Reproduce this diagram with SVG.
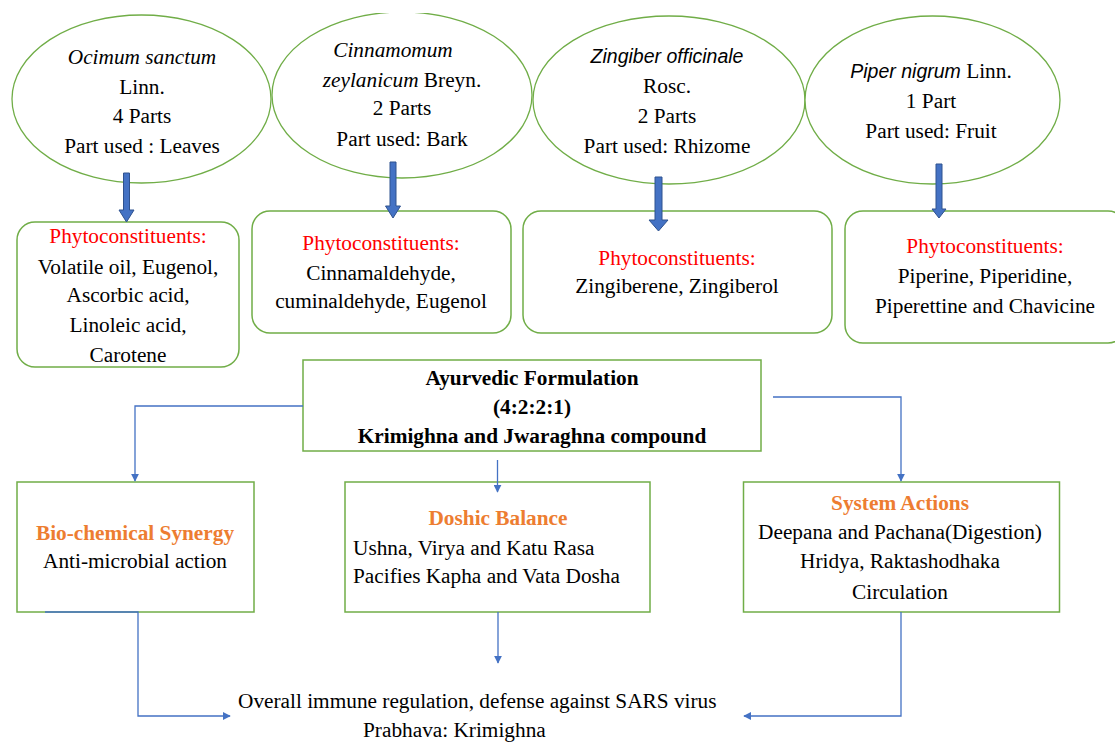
<svg xmlns="http://www.w3.org/2000/svg" width="1115" height="742" viewBox="0 0 1115 742">
<style>
.ell{fill:#fff;stroke:#70AD47;stroke-width:1.3}
.rbox{fill:#fff;stroke:#70AD47;stroke-width:1.5}
.box{fill:#fff;stroke:#70AD47;stroke-width:1.5}
.t{font-family:"Liberation Serif","Times New Roman",serif;font-size:21.3px;fill:#000;text-anchor:middle}
.st{text-anchor:start}
.i{font-style:italic}
.cal{font-family:"Liberation Sans",Arial,sans-serif;font-style:italic;font-size:19.5px}
.red{fill:#FF0000}
.b{font-weight:bold}
.or{fill:#ED7D31;font-weight:bold}
.blk{fill:#4472C4;stroke:#2F528F;stroke-width:1}
.con{fill:none;stroke:#4472C4;stroke-width:1.3}
</style>
<defs>
<marker id="ah" viewBox="0 0 10 10" refX="9" refY="5" markerWidth="8" markerHeight="8" markerUnits="userSpaceOnUse" orient="auto">
<path d="M0,0 L10,5 L0,10 Z" fill="#4472C4"/>
</marker>
<clipPath id="topclip"><rect x="0" y="13" width="1115" height="729"/></clipPath>
</defs>
<rect width="1115" height="742" fill="#fff"/>

<g id="herb-ocimum">
<ellipse class="ell" cx="141.5" cy="99" rx="129.5" ry="84"/>
<text class="t i" x="142" y="64">Ocimum sanctum</text>
<text class="t" x="142" y="94">Linn.</text>
<text class="t" x="142" y="123">4 Parts</text>
<text class="t" x="142" y="153">Part used : Leaves</text>
</g>

<g id="herb-cinnamomum">
<ellipse class="ell" cx="402" cy="95" rx="130" ry="83" clip-path="url(#topclip)"/>
<text class="t i" x="393" y="57">Cinnamomum</text>
<text class="t" x="402" y="87"><tspan class="i">zeylanicum</tspan> Breyn.</text>
<text class="t" x="402" y="115">2 Parts</text>
<text class="t" x="402" y="146">Part used: Bark</text>
</g>

<g id="herb-zingiber">
<ellipse class="ell" cx="669" cy="100" rx="136" ry="84"/>
<text class="t cal" x="667" y="63">Zingiber officinale</text>
<text class="t" x="667" y="93">Rosc.</text>
<text class="t" x="667" y="123">2 Parts</text>
<text class="t" x="667" y="153">Part used: Rhizome</text>
</g>

<g id="herb-piper">
<ellipse class="ell" cx="932.5" cy="100" rx="127.5" ry="84"/>
<text class="t" x="931" y="78"><tspan class="cal">Piper nigrum</tspan> Linn.</text>
<text class="t" x="931" y="108">1 Part</text>
<text class="t" x="931" y="138">Part used: Fruit</text>
</g>

<g id="phyto-ocimum">
<rect class="rbox" x="17" y="222" width="222" height="145" rx="18"/>
<text class="t red" x="128" y="243">Phytoconstituents:</text>
<text class="t" x="128" y="274">Volatile oil, Eugenol,</text>
<text class="t" x="128" y="302">Ascorbic acid,</text>
<text class="t" x="128" y="332">Linoleic acid,</text>
<text class="t" x="128" y="362">Carotene</text>
</g>

<g id="phyto-cinnamomum">
<rect class="rbox" x="252" y="211" width="259" height="122" rx="18"/>
<text class="t red" x="381" y="250">Phytoconstituents:</text>
<text class="t" x="381" y="280">Cinnamaldehyde,</text>
<text class="t" x="381" y="308">cuminaldehyde, Eugenol</text>
</g>

<g id="phyto-zingiber">
<rect class="rbox" x="523" y="211" width="309" height="122" rx="18"/>
<text class="t red" x="677" y="265">Phytoconstituents:</text>
<text class="t" x="677" y="293">Zingiberene, Zingiberol</text>
</g>

<g id="phyto-piper">
<rect class="rbox" x="845" y="211" width="281" height="132" rx="18"/>
<text class="t red" x="985" y="253">Phytoconstituents:</text>
<text class="t" x="985" y="283">Piperine, Piperidine,</text>
<text class="t" x="985" y="313">Piperettine and Chavicine</text>
</g>

<g id="formulation">
<rect class="box" x="303" y="360" width="458" height="91"/>
<text class="t b" x="532" y="385">Ayurvedic Formulation</text>
<text class="t b" x="532" y="414">(4:2:2:1)</text>
<text class="t b" x="532" y="443">Krimighna and Jwaraghna compound</text>
</g>

<g id="biochemical">
<rect class="box" x="17" y="482" width="237" height="130"/>
<text class="t or" x="135" y="540">Bio-chemical Synergy</text>
<text class="t" x="135" y="568">Anti-microbial action</text>
</g>

<g id="doshic">
<rect class="box" x="345" y="482" width="305" height="130"/>
<text class="t or" x="498" y="525">Doshic Balance</text>
<text class="t st" x="353" y="555">Ushna, Virya and Katu Rasa</text>
<text class="t st" x="353" y="583">Pacifies Kapha and Vata Dosha</text>
</g>

<g id="system">
<rect class="box" x="743.5" y="482" width="316" height="130"/>
<text class="t or" x="900" y="510">System Actions</text>
<text class="t" x="900" y="539">Deepana and Pachana(Digestion)</text>
<text class="t" x="900" y="568">Hridya, Raktashodhaka</text>
<text class="t" x="900" y="599">Circulation</text>
</g>

<g id="outcome">
<text class="t st" x="238" y="708">Overall immune regulation, defense against SARS virus</text>
<text class="t st" x="363" y="737">Prabhava: Krimighna</text>
</g>

<g id="connectors">
<path class="blk" d="M123.5,173 H129.5 V210 H134 L126.5,222 L119,210 H123.5 Z"/>
<path class="blk" d="M390,162 H396 V206 H400.5 L393,218 L385.5,206 H390 Z"/>
<path class="blk" d="M655,177 H662 V220 H668 L658.5,231 L649,220 H655 Z"/>
<path class="blk" d="M936,164 H942 V209 H946 L939,218 L932,209 H936 Z"/>
<path class="con" d="M303,406 H135 V481" marker-end="url(#ah)"/>
<path class="con" d="M497.5,460 V492" marker-end="url(#ah)"/>
<path class="con" d="M773,397 H901 V481" marker-end="url(#ah)"/>
<path class="con" d="M45,612 H138 V716 H230" marker-end="url(#ah)"/>
<path class="con" d="M498,612 V663" marker-end="url(#ah)"/>
<path class="con" d="M901,612 V716 H744" marker-end="url(#ah)"/>
</g>
</svg>
